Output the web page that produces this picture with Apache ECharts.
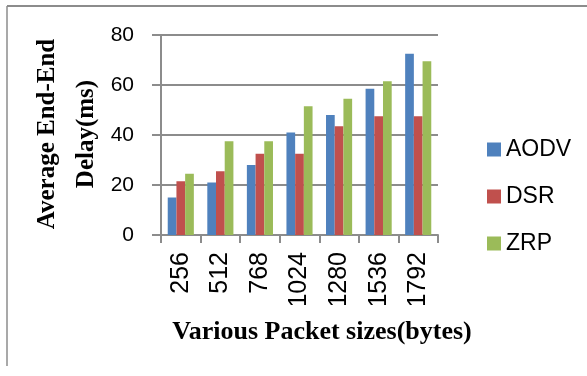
<!DOCTYPE html>
<html>
<head>
<meta charset="utf-8">
<script src="https://cdn.jsdelivr.net/npm/echarts@6/dist/echarts.min.js"></script>
<style>
  html, body { margin: 0; padding: 0; background: #fff; }
  #chart { width: 587px; height: 376px; }
</style>
</head>
<body>
<div id="chart"></div>
<script>
// Packet sizes (bytes) on the category axis
const packetSizes = ['256', '512', '768', '1024', '1280', '1536', '1792'];

// Average end-to-end delay (ms) per routing protocol
const aodv = [15, 21, 28, 41, 48, 58.5, 72.5];
const dsr  = [21.5, 25.5, 32.5, 32.5, 43.5, 47.5, 47.5];
const zrp  = [24.5, 37.5, 37.5, 51.5, 54.5, 61.5, 69.5];

// Value axis ticks
const yMin = 0, yMax = 80, yStep = 20;

const gridColor = '#8c8c8c';
const sans = '"Liberation Sans", Arial, sans-serif';
const serif = '"Liberation Serif", "Times New Roman", serif';

const chart = echarts.init(document.getElementById('chart'), null, { renderer: 'canvas' });

chart.setOption({
  animation: false,
  backgroundColor: '#fff',
  grid: { left: 161, right: 149, top: 35, bottom: 141, containLabel: false },
  legend: {
    orient: 'vertical',
    left: 482,
    top: 133,
    itemWidth: 14,
    itemHeight: 14,
    itemGap: 24,
    icon: 'rect',
    textStyle: { fontFamily: sans, fontSize: 23, color: '#000' },
    data: ['AODV', 'DSR', 'ZRP']
  },
  xAxis: {
    type: 'category',
    data: packetSizes,
    axisLine: { lineStyle: { color: gridColor, width: 2 } },
    axisTick: { show: true, length: 8, alignWithLabel: false, lineStyle: { color: gridColor, width: 2 } },
    axisLabel: {
      rotate: 90,
      margin: 17,
      fontFamily: sans,
      fontSize: 25,
      color: '#000'
    }
  },
  yAxis: {
    type: 'value',
    min: yMin,
    max: yMax,
    interval: yStep,
    axisLine: { show: true, lineStyle: { color: gridColor, width: 2 } },
    axisTick: { show: true, length: 9, lineStyle: { color: gridColor, width: 2 } },
    splitLine: { lineStyle: { color: gridColor, width: 2 } },
    axisLabel: {
      margin: 27,
      fontFamily: sans,
      fontSize: 21,
      color: '#000'
    }
  },
  series: [
    { name: 'AODV', type: 'bar', data: aodv, barGap: '0%', barCategoryGap: '34%',
      itemStyle: { color: '#4f81bd' } },
    { name: 'DSR', type: 'bar', data: dsr, barGap: '0%', barCategoryGap: '34%',
      itemStyle: { color: '#c0504d' } },
    { name: 'ZRP', type: 'bar', data: zrp, barGap: '0%', barCategoryGap: '34%',
      itemStyle: { color: '#9bbb59' } }
  ],
  graphic: [
    // outer frame: top and left edges
    { type: 'line', shape: { x1: 7, y1: 6, x2: 587, y2: 6 },
      style: { stroke: '#8c8c8c', lineWidth: 2 }, z: 10 },
    { type: 'line', shape: { x1: 7, y1: 6, x2: 7, y2: 366 },
      style: { stroke: '#8c8c8c', lineWidth: 1.5 }, z: 10 },
    // label area clip below the rotated tick labels
    { type: 'rect', shape: { x: 155, y: 305, width: 300, height: 14 },
      style: { fill: '#fff' }, z: 100 },
    // value axis title
    { type: 'text', x: 67, y: 134, rotation: Math.PI / 2,
      style: {
        text: 'Average End-End\nDelay(ms)',
        font: 'bold 25px ' + serif,
        fill: '#000',
        align: 'center',
        verticalAlign: 'middle',
        lineHeight: 39
      }, z: 101 },
    // category axis title
    { type: 'text', x: 322, y: 332,
      style: {
        text: 'Various Packet sizes(bytes)',
        font: 'bold 26px ' + serif,
        fill: '#000',
        align: 'center',
        verticalAlign: 'middle'
      }, z: 101 }
  ]
});
</script>
</body>
</html>
